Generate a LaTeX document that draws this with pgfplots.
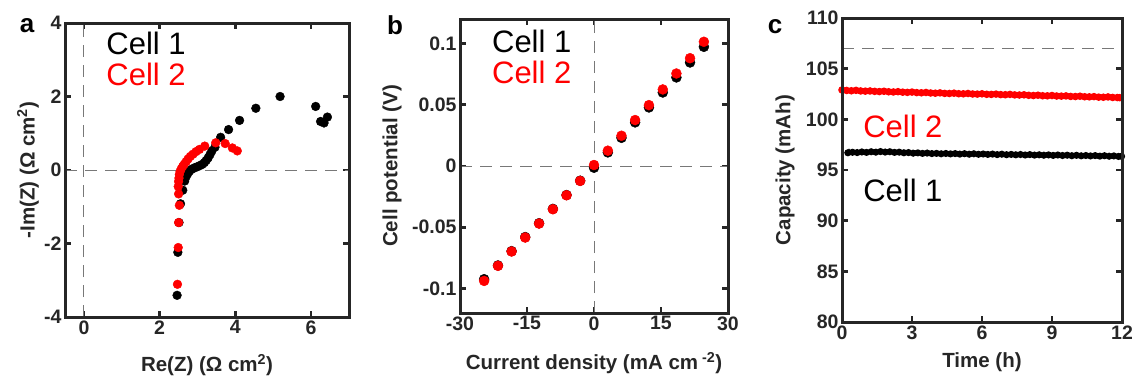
\documentclass[border=0pt]{standalone}
\usepackage{fontspec}
\setmainfont{Liberation Sans}
\usepackage{pgfplots}
\pgfplotsset{compat=1.18}
\definecolor{mred}{RGB}{255,0,0}
\definecolor{dgray}{RGB}{120,120,120}
\definecolor{axblk}{RGB}{38,38,38}
\tikzset{
  celltxt/.style={anchor=west, font=\fontsize{31}{31}\selectfont},
  letter/.style={font=\fontsize{26}{26}\selectfont\bfseries},
}
\pgfplotsset{
  panel/.style={
    scale only axis,
    axis line style={line width=3pt, axblk},
    every outer x axis line/.append style={line width=3pt, axblk},
    every outer y axis line/.append style={line width=3pt, axblk},
    tick style={axblk, line width=2.6pt},
    major tick length=6pt,
    tick align=inside,
    xtick pos=both, ytick pos=both,
    /pgf/number format/assume math mode=true,
    ticklabel style={font=\fontsize{19.5}{19.5}\selectfont\bfseries, text=axblk},
    label style={font=\fontsize{20.5}{20.5}\selectfont\bfseries, text=axblk},
    clip=true,
    after end axis/.code={\draw[line width=3pt, axblk] (rel axis cs:0,0) rectangle (rel axis cs:1,1);},
  },
  refline/.style={dgray, line width=1pt, dash pattern=on 12pt off 8pt, forget plot},
}
\begin{document}
\begin{tikzpicture}
\useasboundingbox (0,0) rectangle (1132pt,378pt);
% ---------------- panel a
\begin{axis}[panel, at={(65pt,61pt)}, anchor=south west, width=284pt, height=294pt,
  xmin=-0.5, xmax=7, ymin=-4, ymax=4,
  xtick={0,2,4,6}, ytick={-4,-2,0,2,4},
  xlabel={Re(Z) (Ω cm\textsuperscript{2})},
  ylabel={-Im(Z) (Ω cm\textsuperscript{2})},
  xlabel style={at={(axis description cs:0.5,0)}, anchor=center, yshift=-48pt},
  ylabel style={at={(axis description cs:0,0.5)}, anchor=center, yshift=37pt},
]
\addplot[refline] coordinates {(0,-4) (0,4)};
\addplot[refline] coordinates {(-0.5,0) (7,0)};
\addplot[only marks, mark=*, mark size=4.4pt, black] coordinates {
(2.46,-3.41) (2.48,-2.24) (2.51,-1.43) (2.55,-0.92) (2.61,-0.55) (2.66,-0.30)
(2.70,-0.18) (2.74,-0.10) (2.78,-0.04) (2.83,0.01) (2.88,0.04) (2.94,0.07)
(3.00,0.09) (3.06,0.12) (3.12,0.15) (3.18,0.20) (3.23,0.26) (3.28,0.33)
(3.33,0.42) (3.38,0.52) (3.46,0.62) (3.61,0.89) (3.82,1.10) (4.11,1.35)
(4.54,1.68) (5.18,2.00) (6.12,1.73) (6.43,1.44) (6.34,1.28) (6.25,1.32)};
\addplot[only marks, mark=*, mark size=4.4pt, mred] coordinates {
(2.47,-3.11) (2.49,-2.11) (2.50,-1.43) (2.52,-0.96) (2.50,-0.65) (2.49,-0.45)
(2.50,-0.31) (2.51,-0.22) (2.52,-0.12) (2.54,-0.04) (2.57,0.03) (2.61,0.10)
(2.65,0.16) (2.70,0.23) (2.75,0.30) (2.81,0.37) (2.88,0.43) (2.96,0.50)
(3.05,0.56) (3.19,0.65) (3.48,0.74) (3.73,0.72) (3.92,0.60) (4.05,0.52)};
\node[celltxt, text=black] at (axis cs:0.5,3.45) {Cell 1};
\node[celltxt, text=mred] at (axis cs:0.5,2.6) {Cell 2};
\end{axis}
\node[letter] at (27pt,352pt) {a};
% ---------------- panel b
\begin{axis}[panel, at={(460pt,65pt)}, anchor=south west, width=268pt, height=294pt,
  xmin=-30, xmax=30, ymin=-0.12, ymax=0.12,
  xtick={-30,-15,0,15,30}, ytick={-0.1,-0.05,0,0.05,0.1},
  yticklabels={-0.1,-0.05,0,0.05,0.1},
  xlabel={Current density (mA cm\textsuperscript{ -2})},
  ylabel={Cell potential (V)},
  xlabel style={at={(axis description cs:0.5,0)}, anchor=center, yshift=-50pt},
  ylabel style={at={(axis description cs:0,0.5)}, anchor=center, yshift=68pt},
]
\addplot[refline] coordinates {(0,-0.12) (0,0.12)};
\addplot[refline] coordinates {(-30,0) (30,0)};
\addplot[only marks, mark=*, mark size=5pt, black] coordinates {
(-24.6,-0.0924) (-21.5,-0.0812) (-18.45,-0.0695) (-15.4,-0.0580) (-12.3,-0.0467)
(-9.2,-0.0350) (-6.15,-0.0237) (-3.1,-0.0120) (0,-0.0014) (3.1,0.0111)
(6.15,0.0230) (9.2,0.0356) (12.3,0.0478) (15.4,0.0600) (18.45,0.0723)
(21.5,0.0845) (24.6,0.0973)};
\addplot[only marks, mark=*, mark size=5pt, mred] coordinates {
(-24.6,-0.0938) (-21.5,-0.0815) (-18.45,-0.0698) (-15.4,-0.0584) (-12.3,-0.0470)
(-9.2,-0.0353) (-6.15,-0.0239) (-3.1,-0.0122) (0,0.0008) (3.1,0.0125)
(6.15,0.0247) (9.2,0.0375) (12.3,0.0497) (15.4,0.0625) (18.45,0.0755)
(21.5,0.0880) (24.6,0.1014)};
\node[celltxt, text=black] at (axis cs:-23.6,0.102) {Cell 1};
\node[celltxt, text=mred] at (axis cs:-23.6,0.076) {Cell 2};
\end{axis}
\node[letter] at (395pt,353pt) {b};
% ---------------- panel c
\begin{axis}[panel, at={(842pt,56pt)}, anchor=south west, width=280pt, height=304pt,
  xmin=0, xmax=12, ymin=80, ymax=110,
  xtick={0,3,6,9,12}, ytick={80,85,90,95,100,105,110},
  xlabel={Time (h)},
  ylabel={Capacity (mAh)},
  xlabel style={at={(axis description cs:0.5,0)}, anchor=center, yshift=-40pt},
  ylabel style={at={(axis description cs:0,0.5)}, anchor=center, yshift=57pt},
]
\addplot[refline] coordinates {(0,107) (12,107)};
\addplot[mred, line width=1.5pt, dash pattern=on 6pt off 2pt on 1pt off 2pt, mark=*, mark size=3pt, mark options={solid}] coordinates {
(0,102.90) (0.2,102.85) (0.4,102.82) (0.6,102.86) (0.8,102.80) (1.0,102.78)
(1.2,102.80) (1.4,102.76) (1.6,102.74) (1.8,102.77) (2.0,102.72) (2.2,102.70)
(2.4,102.73) (2.6,102.68) (2.8,102.66) (3.0,102.69) (3.2,102.64) (3.4,102.62)
(3.6,102.65) (3.8,102.60) (4.0,102.58) (4.2,102.61) (4.4,102.56) (4.6,102.55)
(4.8,102.58) (5.0,102.53) (5.2,102.52) (5.4,102.55) (5.6,102.50) (5.8,102.49)
(6.0,102.52) (6.2,102.47) (6.4,102.46) (6.6,102.49) (6.8,102.44) (7.0,102.43)
(7.2,102.46) (7.4,102.41) (7.6,102.40) (7.8,102.42) (8.0,102.37) (8.2,102.35)
(8.4,102.38) (8.6,102.33) (8.8,102.32) (9.0,102.35) (9.2,102.30) (9.4,102.29)
(9.6,102.31) (9.8,102.26) (10.0,102.25) (10.2,102.28) (10.4,102.23) (10.6,102.22)
(10.8,102.24) (11.0,102.19) (11.2,102.18) (11.4,102.21) (11.6,102.16) (11.8,102.15)
(11.9,102.14)};
\addplot[black, line width=1.5pt, dash pattern=on 6pt off 2pt on 1pt off 2pt, mark=*, mark size=2.8pt, mark options={solid}] coordinates {
(0.25,96.70) (0.45,96.75) (0.65,96.72) (0.85,96.78) (1.05,96.74) (1.25,96.80)
(1.45,96.76) (1.65,96.82) (1.85,96.77) (2.05,96.80) (2.25,96.74) (2.45,96.76)
(2.65,96.70) (2.85,96.72) (3.05,96.66) (3.25,96.69) (3.45,96.64) (3.65,96.67)
(3.85,96.62) (4.05,96.64) (4.25,96.60) (4.45,96.63) (4.65,96.59) (4.85,96.62)
(5.05,96.57) (5.25,96.61) (5.45,96.56) (5.65,96.60) (5.85,96.55) (6.05,96.58)
(6.25,96.54) (6.45,96.57) (6.65,96.52) (6.85,96.56) (7.05,96.51) (7.25,96.54)
(7.45,96.50) (7.65,96.53) (7.85,96.48) (8.05,96.52) (8.25,96.47) (8.45,96.50)
(8.65,96.46) (8.85,96.49) (9.05,96.44) (9.25,96.48) (9.45,96.43) (9.65,96.46)
(9.85,96.41) (10.05,96.45) (10.25,96.40) (10.45,96.43) (10.65,96.39) (10.85,96.42)
(11.05,96.37) (11.25,96.41) (11.45,96.36) (11.65,96.39) (11.85,96.34) (11.98,96.35)};
\addplot[only marks, mark=triangle*, mark size=3.8pt, black] coordinates {(0.3,96.72)};
\node[celltxt, text=mred] at (axis cs:0.76,99.3) {Cell 2};
\node[celltxt, text=black] at (axis cs:0.76,92.95) {Cell 1};
\end{axis}
\node[letter] at (775pt,351pt) {c};
\end{tikzpicture}
\end{document}
